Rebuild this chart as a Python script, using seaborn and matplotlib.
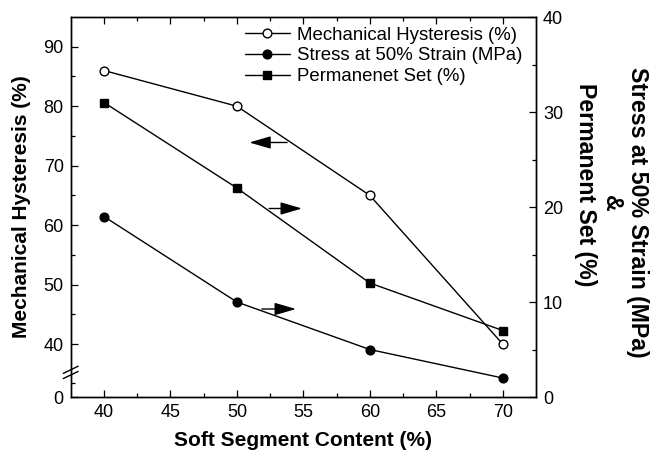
import matplotlib
matplotlib.use("Agg")
import matplotlib.pyplot as plt
import matplotlib.transforms as mtransforms
import seaborn as sns

sns.set_style("ticks")
plt.rcParams["font.family"] = ["Liberation Sans", "DejaVu Sans"]
plt.rcParams.update({"text.color": "black", "axes.labelcolor": "black",
                     "xtick.color": "black", "ytick.color": "black",
                     "axes.edgecolor": "black"})

# Data
soft_segment = [40, 50, 60, 70]
hysteresis = [86, 80, 65, 40]          # left axis (%)
stress_50 = [19, 10, 5, 2]             # right axis (MPa)
permanent_set = [31, 22, 12, 7]        # right axis (%)

left_ticks = [40, 50, 60, 70, 80, 90]
right_ticks = [0, 10, 20, 30, 40]
x_ticks = [40, 45, 50, 55, 60, 65, 70]

fig = plt.figure(figsize=(6.53, 4.51), dpi=100)
ax = fig.add_axes([0.1083, 0.1197, 0.7125, 0.8426])
ax2 = ax.twinx()

line_kw = dict(color="black", linewidth=1.0, markersize=6.3,
               markeredgecolor="black", markeredgewidth=1.0)

sns.lineplot(x=soft_segment, y=hysteresis, ax=ax, marker="o",
             markerfacecolor="white", label="Mechanical Hysteresis (%)",
             legend=False, **line_kw)
sns.lineplot(x=soft_segment, y=stress_50, ax=ax2, marker="o",
             markerfacecolor="black", label="Stress at 50% Strain (MPa)",
             legend=False, **line_kw)
sns.lineplot(x=soft_segment, y=permanent_set, ax=ax2, marker="s",
             markerfacecolor="black", label="Permanenet Set (%)",
             legend=False, **line_kw)

# Axis ranges (left axis broken below 40, bottom labelled 0)
y_bottom = 31.1
ax.set_xlim(37.5, 72.5)
ax.set_ylim(y_bottom, 95)
ax2.set_ylim(0, 40)

ax.set_xticks(x_ticks)
ax.set_xticks([42.5, 47.5, 52.5, 57.5, 62.5, 67.5], minor=True)
ax.set_yticks([y_bottom] + left_ticks)
ax.set_yticklabels(["0"] + [str(t) for t in left_ticks])
ax.set_yticks([33.45, 45, 55, 65, 75, 85], minor=True)
ax2.set_yticks(right_ticks)
ax2.set_yticks([5, 15, 25, 35], minor=True)

for a in (ax, ax2):
    a.tick_params(which="major", direction="in", length=5, width=0.9,
                  labelsize=13, pad=5, colors="black")
    a.tick_params(which="minor", direction="in", length=3, width=0.9)
    for s in a.spines.values():
        s.set_linewidth(1.0)
        s.set_color("black")
ax.tick_params(axis="x", which="both", top=True)
ax.tick_params(axis="y", which="both", right=False)
ax2.tick_params(axis="y", which="both", left=False, right=True)

ax.set_xlabel("Soft Segment Content (%)", fontsize=15, fontweight="bold")
ax.xaxis.set_label_coords(0.5, -0.09)
ax.set_ylabel("Mechanical Hysteresis (%)", fontsize=15, fontweight="bold")
ax.yaxis.set_label_coords(-0.085, 0.5)
ax2.set_ylabel("")

# Right axis title: two lines joined by an ampersand
right_title = dict(rotation=-90, ha="center", va="center", fontsize=16.7,
                   fontweight="bold", color="black")
fig.text(637 / 653, 1 - 212 / 451, "Stress at 50% Strain (MPa)", **right_title)
fig.text(611 / 653, 1 - 203 / 451, "&", **right_title)
fig.text(585 / 653, 1 - 185 / 451, "Permanent Set (%)", **right_title)

# Axis break marks on the left spine
brk = mtransforms.blended_transform_factory(ax.transAxes, ax.transData)
for y0, y1 in [(35.07, 36.28), (34.2, 35.4)]:
    ax.plot([-0.016, 0.016], [y0, y1], color="black", linewidth=1.0,
            transform=brk, clip_on=False)

# Arrows indicating which axis each curve belongs to
arrow_kw = dict(arrowstyle="-|>,head_length=1.1,head_width=0.32",
                color="black", lw=1.0, mutation_scale=12,
                shrinkA=0, shrinkB=0)
ax.annotate("", xy=(50.93, 73.9), xytext=(53.78, 73.9),
            arrowprops=arrow_kw)
ax.annotate("", xy=(54.9, 62.8), xytext=(52.43, 62.8),
            arrowprops=arrow_kw)
ax.annotate("", xy=(54.45, 45.9), xytext=(51.88, 45.9),
            arrowprops=arrow_kw)

handles = ax.get_lines()[:1] + ax2.get_lines()[:2]
leg = ax.legend(handles=handles, loc="upper left",
                bbox_to_anchor=(0.3746, 0.975), frameon=False, fontsize=13.4,
                handlelength=2.4, handletextpad=0.38, labelspacing=0.2,
                borderaxespad=0, borderpad=0)
for t in leg.get_texts():
    t.set_color("black")

fig.savefig("out.png", dpi=100)
